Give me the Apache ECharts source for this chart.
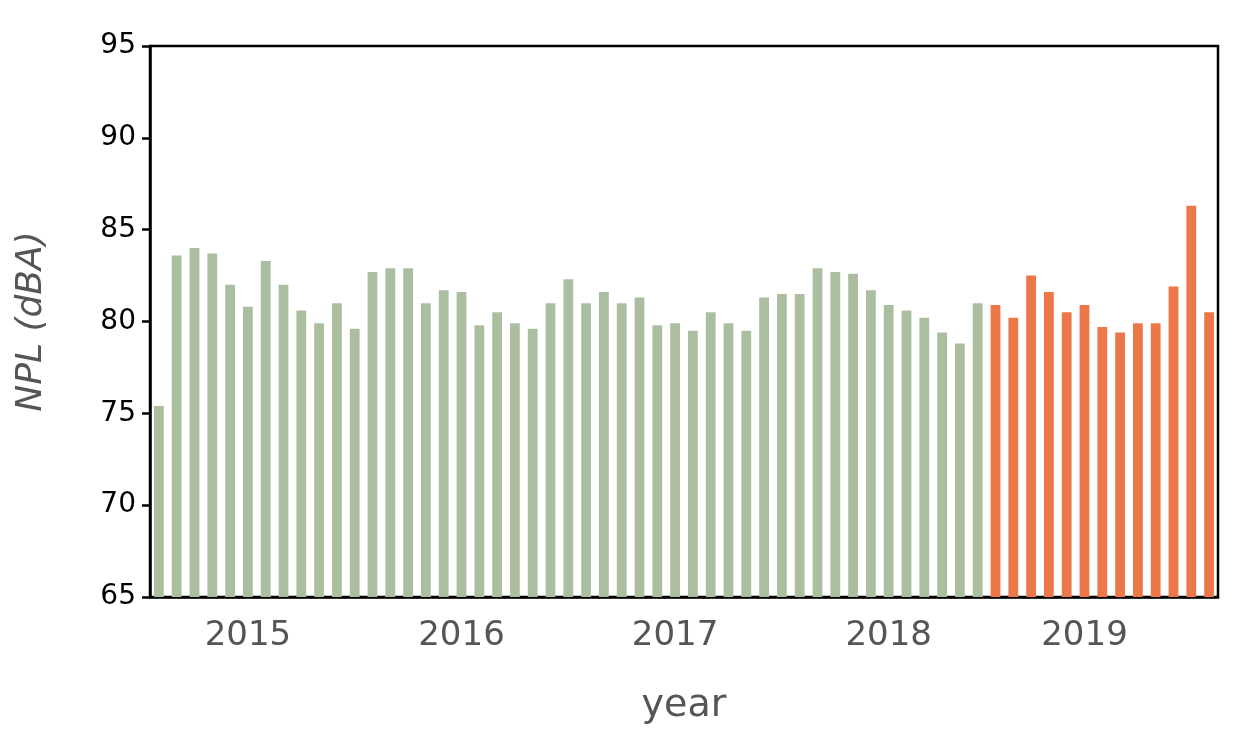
<!DOCTYPE html>
<html>
<head>
<meta charset="utf-8">
<script src="https://cdn.jsdelivr.net/npm/echarts@6/dist/echarts.min.js"></script>
<style>html,body{margin:0;padding:0;background:#fff}#main{width:1244px;height:749px}</style>
</head>
<body>
<div id="main"></div>
<script>
// monthly NPL, green = observed, orange = 2019 part
var greenValues = [75.4, 83.6, 84.0, 83.7, 82.0, 80.8, 83.3, 82.0, 80.6, 79.9, 81.0, 79.6,
  82.7, 82.9, 82.9, 81.0, 81.7, 81.6, 79.8, 80.5, 79.9, 79.6, 81.0, 82.3,
  81.0, 81.6, 81.0, 81.3, 79.8, 79.9, 79.5, 80.5, 79.9, 79.5, 81.3, 81.5,
  81.5, 82.9, 82.7, 82.6, 81.7, 80.9, 80.6, 80.2, 79.4, 78.8, 81.0];
var orangeValues = [80.9, 80.2, 82.5, 81.6, 80.5, 80.9, 79.7, 79.4, 79.9, 79.9, 81.9, 86.3, 80.5];
var yearLabels = {5: '2015', 17: '2016', 29: '2017', 41: '2018', 52: '2019'};

var n = greenValues.length + orangeValues.length;
var categories = [];
for (var i = 0; i < n; i++) categories.push('m' + i);
var greenData = [], orangeData = [];
for (var i = 0; i < n; i++) {
  greenData.push(i < greenValues.length ? greenValues[i] : '-');
  orangeData.push(i >= greenValues.length ? orangeValues[i - greenValues.length] : '-');
}

var myChart = echarts.init(document.getElementById('main'));
var option = {
  backgroundColor: '#fff',
  animation: false,
  grid: { left: 150, right: 26, top: 46, bottom: 152, show: true, borderColor: '#000', borderWidth: 2.5 },
  xAxis: {
    type: 'category',
    data: categories,
    name: 'year',
    nameLocation: 'middle',
    nameGap: 90,
    nameTextStyle: { fontSize: 38, color: '#555', fontFamily: 'DejaVu Sans' },
    axisLine: { lineStyle: { color: '#000', width: 2.5 } },
    axisTick: { alignWithLabel: true, interval: 0, length: 9, lineStyle: { color: '#000', width: 2.5 } },
    axisLabel: {
      interval: 0, fontSize: 34, color: '#555', margin: 22, fontFamily: 'DejaVu Sans',
      formatter: function (v, idx) { return yearLabels[idx] || ''; }
    }
  },
  yAxis: {
    type: 'value',
    min: 65, max: 95, interval: 5,
    name: 'NPL (dBA)',
    nameLocation: 'middle',
    nameGap: 100,
    nameTextStyle: { fontSize: 36, color: '#555', fontStyle: 'italic', fontFamily: 'DejaVu Sans' },
    axisLine: { show: true, lineStyle: { color: '#000', width: 2.5 } },
    axisTick: { show: true, length: 8, lineStyle: { color: '#000', width: 2.5 } },
    axisLabel: { fontSize: 28, color: '#000', margin: 14, fontFamily: 'DejaVu Sans' },
    splitLine: { show: false }
  },
  series: [
    { type: 'bar', data: greenData, barWidth: '55%', barGap: '-100%', itemStyle: { color: '#abbfa0' } },
    { type: 'bar', data: orangeData, barWidth: '55%', itemStyle: { color: '#ee774a' } }
  ]
};
myChart.setOption(option);
</script>
</body>
</html>
